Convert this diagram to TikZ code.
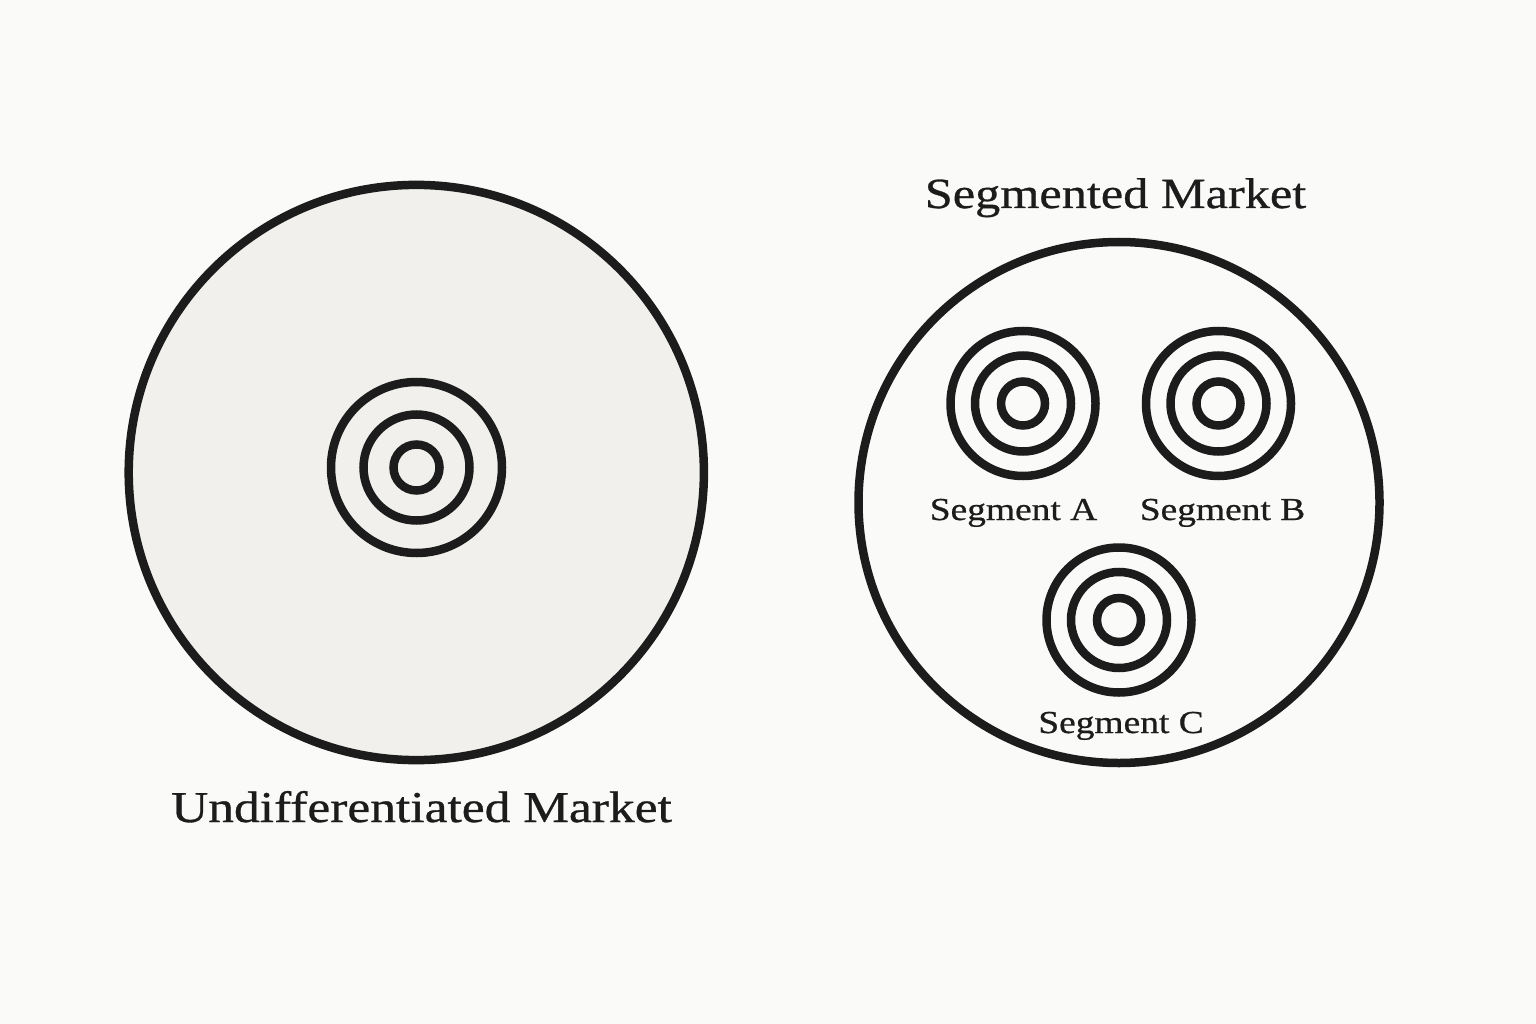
\documentclass[tikz,border=0pt]{standalone}
\usepackage{fontspec}
\setmainfont{Liberation Serif}[FakeStretch=1.17,FakeBold=0.7]
\definecolor{bgc}{HTML}{FAFAF8}
\definecolor{fillc}{HTML}{F1F0ED}
\definecolor{inkc}{HTML}{1C1C1C}
\tikzset{
  bigring/.style={draw=inkc, line width=8.5pt},
  ring/.style={draw=inkc, line width=8.5pt},
  lbl/.style={anchor=base, text=inkc, inner sep=0pt},
}
\begin{document}
\begin{tikzpicture}[x=1pt,y=-1pt]
\fill[bgc] (0,0) rectangle (1536,1024);
\useasboundingbox (0,0) rectangle (1536,1024);
% left market
\draw[bigring, fill=fillc] (416.3,472.5) circle[radius=287.6];
\draw[ring] (416.5,467.5) circle[radius=85.5];
\draw[ring] (416.5,467.5) circle[radius=53];
\draw[ring] (416.5,467.5) circle[radius=23];
\coordinate (tL) at (416.5,467.5);
\node[lbl, font=\fontsize{44}{50}\selectfont] (undiff) at (421.5,822) {Undifferentiated Market};
% right market
\draw[bigring, fill=bgc] (1119,502.5) circle[radius=260.5];
\node[lbl, font=\fontsize{43}{50}\selectfont] (seg) at (1115.5,208) {Segmented Market};
\foreach \cx/\cy/\nm in {1023/403.5/tA, 1218.5/403.5/tB, 1119/620/tC}{
  \draw[ring] (\cx,\cy) circle[radius=72.5];
  \draw[ring] (\cx,\cy) circle[radius=48];
  \draw[ring] (\cx,\cy) circle[radius=22];
  \coordinate (\nm) at (\cx,\cy);
}
\node[lbl, font=\fontsize{32}{38}\selectfont] (sA) at (1013.5,520) {Segment A};
\node[lbl, font=\fontsize{32}{38}\selectfont] (sB) at (1222.5,520) {Segment B};
\node[lbl, font=\fontsize{32}{38}\selectfont] (sC) at (1121,733) {Segment C};
\end{tikzpicture}
\end{document}
